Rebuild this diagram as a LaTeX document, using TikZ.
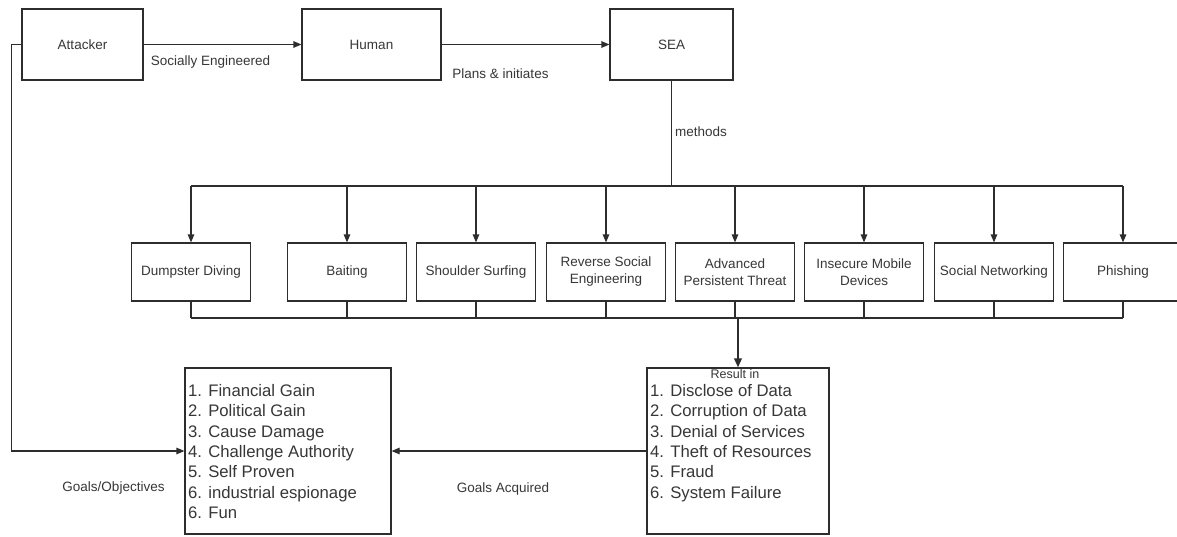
\documentclass[tikz,border=0pt]{standalone}
\usepackage{fontspec}
\setmainfont{Liberation Sans}
\usetikzlibrary{arrows.meta}
\definecolor{ln}{RGB}{45,45,45}
\definecolor{tx}{RGB}{55,55,55}
\tikzset{
  box/.style={draw=ln, line width=1.2pt, inner sep=0pt, text=tx, align=center,
    font=\fontsize{13.5}{17}\selectfont},
  lbl/.style={text=tx, inner sep=0pt, font=\fontsize{13.5}{17}\selectfont},
  item/.style={text=tx, inner sep=0pt, anchor=base west, font=\fontsize{16.7}{20}\selectfont},
  conn/.style={draw=ln, line width=1.2pt},
  arr/.style={conn, -{Triangle[length=8pt,width=6.5pt]}},
  thickarr/.style={draw=ln, line width=2pt, -{Triangle[length=9pt,width=7.5pt]}}
}
\begin{document}
\begin{tikzpicture}[x=1pt, y=-1pt]
\useasboundingbox (0,0) rectangle (1177,536);
\fill[white] (0,0) rectangle (1177,536);

% top row
\node[box, minimum width=121pt, minimum height=71pt] (att) at (82.5,44.5) {Attacker};
\node[box, minimum width=139pt, minimum height=71pt] (hum) at (371.5,44.5) {Human};
\node[box, minimum width=123pt, minimum height=71pt] (sea) at (671.5,44.5) {SEA};

\draw[arr] (att.east) -- (hum.west);
\draw[arr] (hum.east) -- (sea.west);
\node[lbl] (lse) at (210.5,62.5) {Socially Engineered};
\node[lbl] (lpi) at (500.5,74) {Plans \& initiates};

% method boxes
\foreach \n/\x/\t in {m1/191/{Dumpster Diving}, m2/347/{Baiting}, m3/476/{Shoulder Surfing},
  m4/606/{Reverse Social\\Engineering}, m5/735/{Advanced\\Persistent Threat},
  m6/864/{Insecure Mobile\\Devices}, m7/994/{Social Networking}, m8/1123/{Phishing}}{
  \node[box, minimum width=119pt, minimum height=58pt] (\n) at (\x,272) {\t};
}

% top bus
\coordinate (bt) at (671.5,186);
\coordinate (bb) at (738,318);
\draw[conn] (sea.south) -- (sea.south |- bt);
\node[lbl, anchor=west] (lme) at (675,132) {methods};
\draw[conn] (m1.north |- bt) -- (m8.north |- bt);
\foreach \n in {m1,m2,m3,m4,m5,m6,m7,m8}{
  \draw[arr] (\n.north |- bt) -- (\n.north);
  \draw[conn] (\n.south) -- (\n.south |- bb);
}
\draw[conn] (m1.south |- bb) -- (m8.south |- bb);

% bottom boxes
\node[box, minimum width=206pt, minimum height=166pt] (goals) at (288,451) {};
\node[box, minimum width=182pt, minimum height=166pt] (res) at (738,451) {};

\draw[thickarr] (bb) -- (res.north);
\node[lbl, font=\fontsize{12.5}{15}\selectfont] (rin) at (735,374.5) {Result in};

\foreach \i/\t in {1/{1. Financial Gain}, 2/{2. Political Gain}, 3/{3. Cause Damage},
  4/{4. Challenge Authority}, 5/{5. Self Proven}, 6/{6. industrial espionage}, 7/{6. Fun}}{
  \node[item] (g\i) at (188,{396.5+20.3*(\i-1)}) {\t};
}
\foreach \i/\t in {1/{1. Disclose of Data}, 2/{2. Corruption of Data}, 3/{3. Denial of Services},
  4/{4. Theft of Resources}, 5/{5. Fraud}, 6/{6. System Failure}}{
  \node[item] (r\i) at (650,{396.5+20.3*(\i-1)}) {\t};
}

% left connector
\coordinate (lc) at (11.5,44.5);
\draw[arr] (att.west) -- (lc) |- (goals.west);
\node[lbl] (lgo) at (113.5,488) {Goals/Objectives};

% result to goals
\draw[arr] (res.west) -- (goals.east);
\node[lbl] (lga) at (503,489) {Goals Acquired};
\end{tikzpicture}
\end{document}
